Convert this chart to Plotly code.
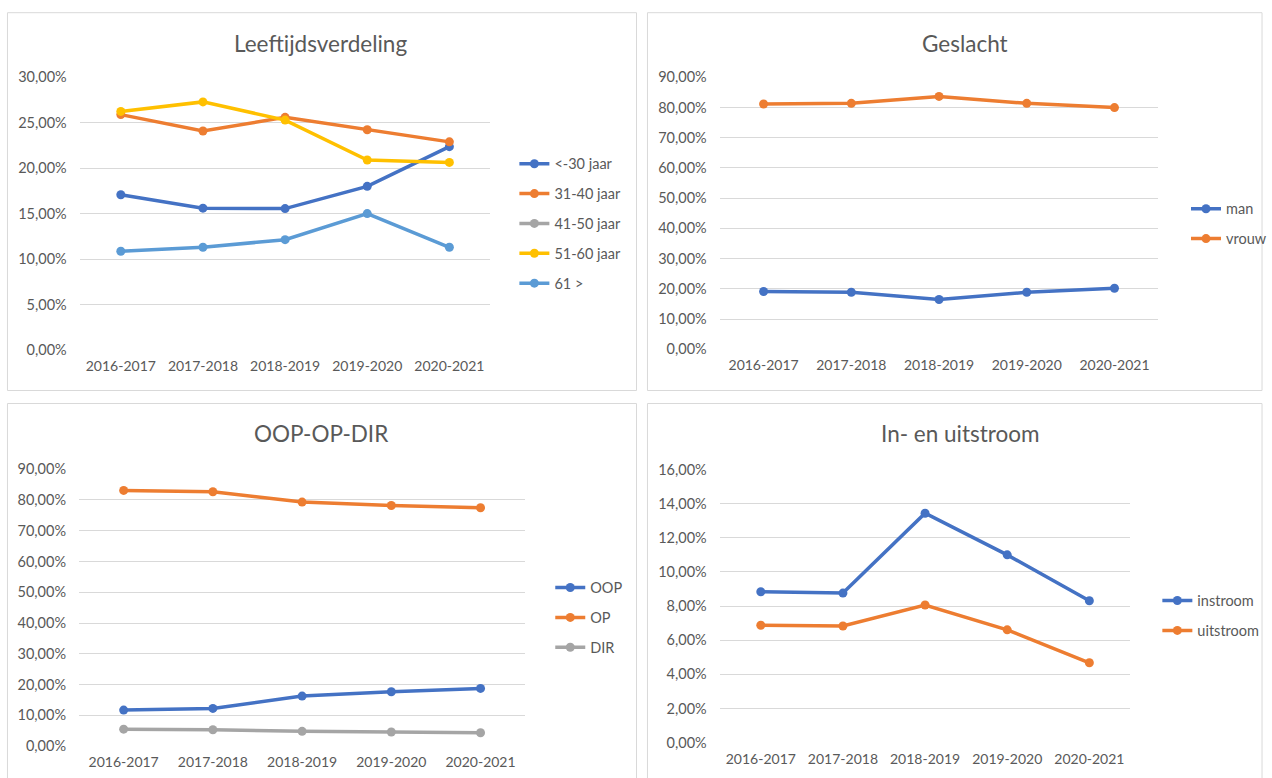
import plotly.graph_objects as go

# ---------------- data ----------------
years = ["2016-2017", "2017-2018", "2018-2019", "2019-2020", "2020-2021"]

age_names = ["<-30 jaar", "31-40 jaar", "41-50 jaar", "51-60 jaar", "61 >"]
age_lt30 = [0.1708, 0.1560, 0.1555, 0.1800, 0.2237]
age_31_40 = [0.2590, 0.2410, 0.2560, 0.2423, 0.2290]
age_41_50 = [None, None, None, None, None]
age_51_60 = [0.2625, 0.2730, 0.2530, 0.2090, 0.2064]
age_61 = [0.1085, 0.1129, 0.1213, 0.1500, 0.1129]

gender_names = ["man", "vrouw"]
man = [0.1910, 0.1886, 0.1645, 0.1886, 0.2020]
vrouw = [0.8120, 0.8140, 0.8370, 0.8140, 0.8000]

func_names = ["OOP", "OP", "DIR"]
oop = [0.1170, 0.1225, 0.1625, 0.1766, 0.1875]
op = [0.8310, 0.8265, 0.7930, 0.7820, 0.7745]
dir_ = [0.0550, 0.0530, 0.0478, 0.0456, 0.0434]

flow_names = ["instroom", "uitstroom"]
instroom = [0.0884, 0.0876, 0.1344, 0.1100, 0.0831]
uitstroom = [0.0688, 0.0683, 0.0806, 0.0661, 0.0468]

titles = ["Leeftijdsverdeling", "Geslacht", "OOP-OP-DIR", "In- en uitstroom"]

# ---------------- styling ----------------
W, H = 1272, 778
BLUE, ORANGE, GRAY, YELLOW, LBLUE = "#4472C4", "#ED7D31", "#A5A5A5", "#FFC000", "#5B9BD5"
TXT = "#595959"
GRID = "#D9D9D9"
FONT = "Lato"
FS = 14

# vertical correction for how the page is photographed
VA, VB = 0.9786, 8.3


def px(x):
    return x / W


def py(y):
    yy = (y - VB) / VA
    return 1 - yy / H


fig = go.Figure()

panels = [
    dict(series=[(age_names[0], age_lt30, BLUE), (age_names[1], age_31_40, ORANGE),
                 (age_names[2], age_41_50, GRAY), (age_names[3], age_51_60, YELLOW),
                 (age_names[4], age_61, LBLUE)],
         xd=(80, 492), yd=(349.3, 76.7), yr=(0, 0.30), dt=0.05, leg=(516, 164)),
    dict(series=[(gender_names[0], man, BLUE), (gender_names[1], vrouw, ORANGE)],
         xd=(722, 1162), yd=(348.7, 76.7), yr=(0, 0.90), dt=0.10, leg=(1190, 209)),
    dict(series=[(func_names[0], oop, BLUE), (func_names[1], op, ORANGE), (func_names[2], dir_, GRAY)],
         xd=(79.3, 526.8), yd=(745.7, 468.7), yr=(0, 0.90), dt=0.10, leg=(552, 588)),
    dict(series=[(flow_names[0], instroom, BLUE), (flow_names[1], uitstroom, ORANGE)],
         xd=(722, 1134), yd=(742.3, 469), yr=(0, 0.16), dt=0.02, leg=(1161, 601)),
]

layout_upd = {}
for i, p in enumerate(panels, start=1):
    xa = "x" if i == 1 else f"x{i}"
    ya = "y" if i == 1 else f"y{i}"
    lg = "legend" if i == 1 else f"legend{i}"
    for j, (name, vals, col) in enumerate(p["series"]):
        fig.add_trace(go.Scatter(
            x=years, y=vals, name=name, mode="lines+markers",
            line=dict(color=col, width=3.5),
            marker=dict(color=col, size=9),
            xaxis=xa, yaxis=ya, legend=lg, legendgroup=f"p{i}s{j}",
            cliponaxis=False, hoverinfo="x+y+name",
        ))
    xkey = "xaxis" if i == 1 else f"xaxis{i}"
    ykey = "yaxis" if i == 1 else f"yaxis{i}"
    layout_upd[xkey] = dict(
        domain=[px(p["xd"][0]), px(p["xd"][1])], anchor=ya, type="category",
        range=[-0.5, 4.5], showgrid=False, zeroline=False, showline=False,
        ticks="", tickfont=dict(family=FONT, size=FS, color=TXT), ticklabelstandoff=6,
    )
    layout_upd[ykey] = dict(
        domain=[py(p["yd"][0]), py(p["yd"][1])], anchor=xa, range=list(p["yr"]),
        dtick=p["dt"], tick0=0, tickformat=".2%", showgrid=True, gridcolor=GRID,
        gridwidth=1, zeroline=False, showline=False, ticks="",
        tickfont=dict(family=FONT, size=14.5, color=TXT), ticklabelstandoff=12,
    )
    leg_top = 1 - (((p["leg"][1] - VB) / VA) - 17.2) / H
    layout_upd[lg] = dict(
        x=px(p["leg"][0]), y=leg_top, xanchor="left", yanchor="top",
        font=dict(family=FONT, size=14.5, color=TXT), bgcolor="rgba(0,0,0,0)",
        tracegroupgap=8, itemclick=False, itemdoubleclick=False,
    )

fig.update_layout(**layout_upd)

# card borders
cards = [(7.5, 12, 638.5, 390), (649.5, 12, 1266, 390), (7.5, 403, 638.5, 820), (649.5, 403, 1266, 820)]
shapes = []
for x0, y0, x1, y1 in cards:
    shapes.append(dict(type="rect", xref="paper", yref="paper", x0=px(x0), x1=px(x1),
                       y0=py(y1), y1=py(y0), line=dict(color=GRID, width=1),
                       fillcolor="rgba(0,0,0,0)", layer="below"))

title_pos = [(322, 43), (968, 43), (322, 433), (964, 433)]
annotations = []
for t, (tx, ty) in zip(titles, title_pos):
    annotations.append(dict(text=t, x=px(tx), y=py(ty), xref="paper", yref="paper",
                            xanchor="center", yanchor="middle", showarrow=False,
                            font=dict(family=FONT, size=22.5, color=TXT)))

fig.update_layout(
    width=W, height=H, margin=dict(l=0, r=0, t=0, b=0),
    paper_bgcolor="white", plot_bgcolor="rgba(0,0,0,0)",
    separators=",.", shapes=shapes, annotations=annotations,
    font=dict(family=FONT, color=TXT),
)

fig.write_html(
    "out.html",
    config={"displayModeBar": False},
    post_script=(
        "document.documentElement.style.overflow='hidden';"
        "document.body.style.margin='0';document.body.style.overflow='hidden';"
        "var d=document.getElementsByClassName('plotly-graph-div')[0];"
        "d.style.position='fixed';d.style.top='0px';d.style.left='0px';"
    ),
)
